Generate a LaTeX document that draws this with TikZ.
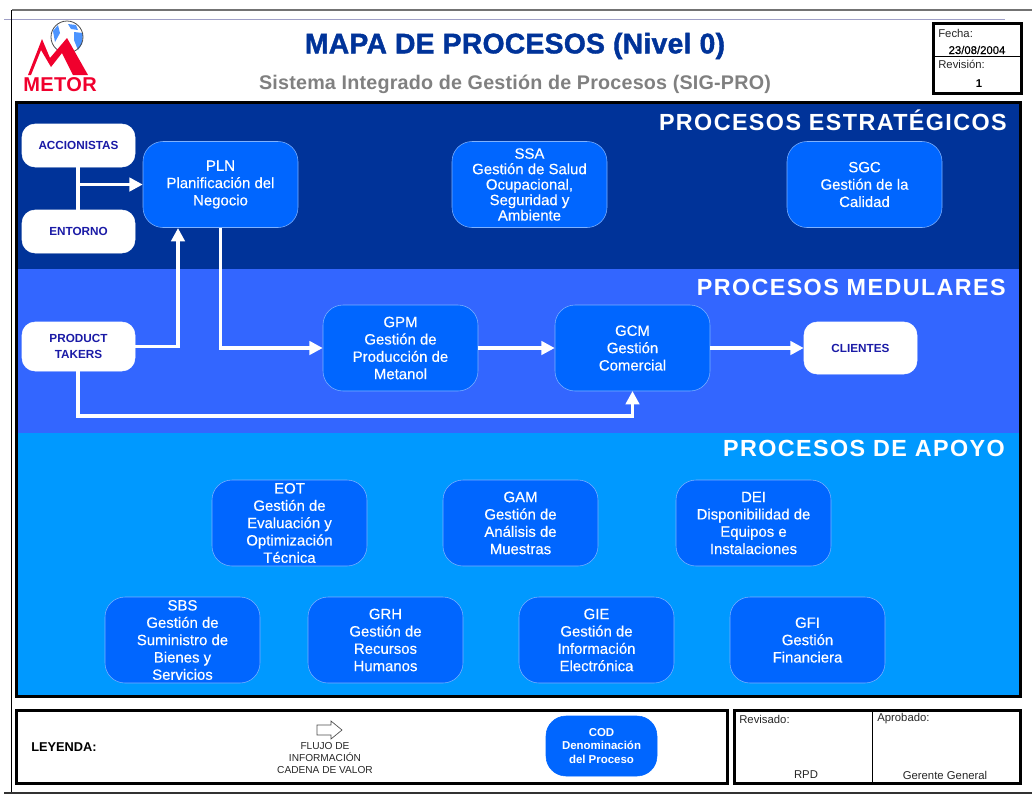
\documentclass[tikz,border=0pt]{standalone}
\usepackage{fontspec}
\setmainfont{Liberation Sans}
\newfontfamily\procfont[FakeBold=0.35]{Liberation Sans}
\newfontfamily\heavyfont[FakeBold=1.5]{Liberation Sans Bold}
\usetikzlibrary{arrows.meta}
\definecolor{bandDark}{HTML}{003399}
\definecolor{bandMid}{HTML}{3366FF}
\definecolor{bandLight}{HTML}{0099FF}
\definecolor{procBlue}{HTML}{0066FF}
\definecolor{procEdge}{HTML}{7FB2FF}
\definecolor{inkBlue}{HTML}{1A1AA6}
\definecolor{logoRed}{HTML}{F0002D}
\tikzset{
    proc/.style={draw=procEdge, fill=procBlue, rounded corners=20*0.75pt, minimum width=155*0.75pt, minimum height=86*0.75pt, inner sep=0pt, align=center, text=white, font=\procfont\fontsize{11.2}{13}\selectfont},
    extern/.style={draw=white, fill=white, rounded corners=13*0.75pt, minimum width=113*0.75pt, inner sep=0pt, align=center, text=inkBlue, font=\fontsize{8.8}{12.5}\selectfont\bfseries},
    flow/.style={draw=white, line width=3.5*0.75pt},
    flowarrow/.style={flow, -{Triangle[length=10pt, width=10pt]}},
    bandtitle/.style={anchor=east, inner sep=0pt, text=white, font=\fontsize{17.5}{20}\selectfont\bfseries},
    frame/.style={draw=black, line width=3*0.75pt},
    small/.style={inner sep=0pt, font=\fontsize{8.5}{10}\selectfont, text=black!85},
}
\begin{document}
\begin{tikzpicture}[x=0.75pt, y=-0.75pt]
    \useasboundingbox (0,0) rectangle (1032,794);

    % Page rules
    \draw[black!55, line width=1.5pt] (12,10) -- (1032,10);
    \draw[blue!25!gray!60, line width=0.5pt] (4,19) -- (1005,19);
    \draw[black, line width=0.6pt] (11,10) -- (11,794);
    \draw[black!80, line width=0.8pt] (4,793) -- (1032,793);

    % Logo
    \fill[white] (67,37) circle (16);
    \fill[blue!60!cyan!70] (53,31) -- (58,25) -- (60,33) -- (55,42) -- cycle;
    \fill[blue!60!cyan!70] (74,32) -- (83,33) -- (82,44) -- (78,50) -- (74,40) -- cycle;
    \fill[blue!60!cyan!70] (68,24) -- (76,25) -- (78,30) -- (71,29) -- cycle;
    \draw[black!70, line width=0.6pt] (67,37) circle (16);
    \fill[logoRed] (28,75) -- (42,39) -- (50,58) -- (67,38) -- (88,75) -- (73,75) -- (62,53) -- (51,67) -- (41,50) -- (31,75) -- cycle;
    \node[text=logoRed, inner sep=0pt, font=\fontsize{15}{16}\selectfont\bfseries] (logoName) at (60,85) {\addfontfeature{LetterSpace=2}METOR};

    % Titles
    \node[text=bandDark, inner sep=0pt, font=\heavyfont\fontsize{21.2}{22}\selectfont] (title) at (515,46) {\addfontfeature{LetterSpace=1}MAPA DE PROCESOS (Nivel 0)};
    \node[text=black!50, inner sep=0pt, font=\fontsize{14.8}{16}\selectfont\bfseries] (subtitle) at (515,84) {\addfontfeature{LetterSpace=1}Sistema Integrado de Gestión de Procesos (SIG-PRO)};

    % Date box
    \draw[frame] (933,23) rectangle (1021,93);
    \draw[black, line width=0.6pt] (933,56) -- (1021,56);
    \node[small, anchor=west] (fecha) at (938,33) {Fecha:};
    \node[small, anchor=center, text=black] (fechaVal) at (977,50) {\procfont 23/08/2004};
    \node[small, anchor=west] (revision) at (938,64) {Revisión:};
    \node[small, anchor=center, text=black, font=\fontsize{8.5}{10}\selectfont\bfseries] (revisionVal) at (979,84) {1};

    % Bands
    \fill[bandDark] (16,102) rectangle (1020,269);
    \fill[bandMid] (16,269) rectangle (1020,433);
    \fill[bandLight] (16,433) rectangle (1020,696);
    \draw[frame] (16,102) rectangle (1020,696);
    \node[bandtitle] (estrategicos) at (1007,120) {\addfontfeature{LetterSpace=6}PROCESOS ESTRATÉGICOS};
    \node[bandtitle] (medulares) at (1006,287) {\addfontfeature{LetterSpace=6}PROCESOS MEDULARES};
    \node[bandtitle] (apoyo) at (1005,448) {\addfontfeature{LetterSpace=6}PROCESOS DE APOYO};

    % Strategic processes
    \node[extern, minimum height=43*0.75pt] (ACC) at (78.5,145.5) {ACCIONISTAS};
    \node[extern, minimum height=43*0.75pt] (ENT) at (78.5,231.5) {ENTORNO};
    \node[proc] (PLN) at (220.5,184.5) {PLN\\Planificación del\\Negocio};
    \node[proc, font=\procfont\fontsize{11.2}{11.6}\selectfont] (SSA) at (529.5,184.5) {SSA\\Gestión de Salud\\Ocupacional,\\Seguridad y\\Ambiente};
    \node[proc] (SGC) at (864.5,184.5) {SGC\\Gestión de la\\Calidad};

    % Core processes
    \node[extern, minimum height=49*0.75pt] (PT) at (78.5,346.5) {PRODUCT\\TAKERS};
    \node[proc] (GPM) at (400.5,348) {GPM\\Gestión de\\Producción de\\Metanol};
    \node[proc] (GCM) at (632.5,348) {GCM\\Gestión\\Comercial};
    \node[extern, minimum height=52*0.75pt] (CLI) at (860.5,348) {CLIENTES};

    % Support processes
    \node[proc] (EOT) at (289.5,523) {EOT\\Gestión de\\Evaluación y\\Optimización\\Técnica};
    \node[proc] (GAM) at (520.5,523) {GAM\\Gestión de\\Análisis de\\Muestras};
    \node[proc] (DEI) at (753.5,523) {DEI\\Disponibilidad de\\Equipos e\\Instalaciones};
    \node[proc] (SBS) at (182.5,640) {SBS\\Gestión de\\Suministro de\\Bienes y\\Servicios};
    \node[proc] (GRH) at (385.5,640) {GRH\\Gestión de\\Recursos\\Humanos};
    \node[proc] (GIE) at (596.5,640) {GIE\\Gestión de\\Información\\Electrónica};
    \node[proc] (GFI) at (807.5,640) {GFI\\Gestión\\Financiera};

    % Flows
    \coordinate (joinACC) at (78,184.5);
    \coordinate (inPLN) at (178,228);
    \coordinate (outPLN) at (220.5,228);
    \coordinate (inGCM) at (632.5,391);
    \coordinate (corner) at (78,416);
    \draw[flow] (ACC.south -| joinACC) -- (ENT.north -| joinACC);
    \draw[flowarrow] (joinACC) -- (PLN.west);
    \draw[flowarrow] (PT.east) -| (inPLN);
    \draw[flowarrow] (outPLN) |- (GPM.west);
    \draw[flowarrow] (GPM.east) -- (GCM.west);
    \draw[flowarrow] (GCM.east) -- (CLI.west);
    \draw[flowarrow] (PT.south -| corner) -- (corner) -| (inGCM);

    % Legend
    \draw[frame] (16,710) rectangle (727,783);
    \node[font=\fontsize{9.6}{10}\selectfont\bfseries, anchor=west, inner sep=0pt] (leyenda) at (31,747) {LEYENDA:};
    \draw[black!70, line width=0.5pt] (317,725) -- (331,725) -- (331,721) -- (342,730) -- (331,739) -- (331,735) -- (317,735) -- cycle;
    \node[align=center, font=\fontsize{7.6}{9.2}\selectfont, text=black!85] (flujo) at (325,758) {FLUJO DE\\INFORMACIÓN\\CADENA DE VALOR};
    \node[proc, draw=procBlue, minimum width=111*0.75pt, minimum height=60*0.75pt, font=\fontsize{8.6}{10.2}\selectfont\bfseries] (COD) at (601.5,746) {COD\\Denominación\\del Proceso};

    % Signatures
    \draw[frame] (734,710) rectangle (1020,783);
    \draw[black, line width=0.6pt] (872,710) -- (872,783);
    \node[small, anchor=west] (revisado) at (739,719) {Revisado:};
    \node[small, anchor=west] (aprobado) at (877,719) {Aprobado:};
    \node[small] (rpd) at (806,775) {RPD};
    \node[small] (gerente) at (945,775) {Gerente General};
\end{tikzpicture}
\end{document}
